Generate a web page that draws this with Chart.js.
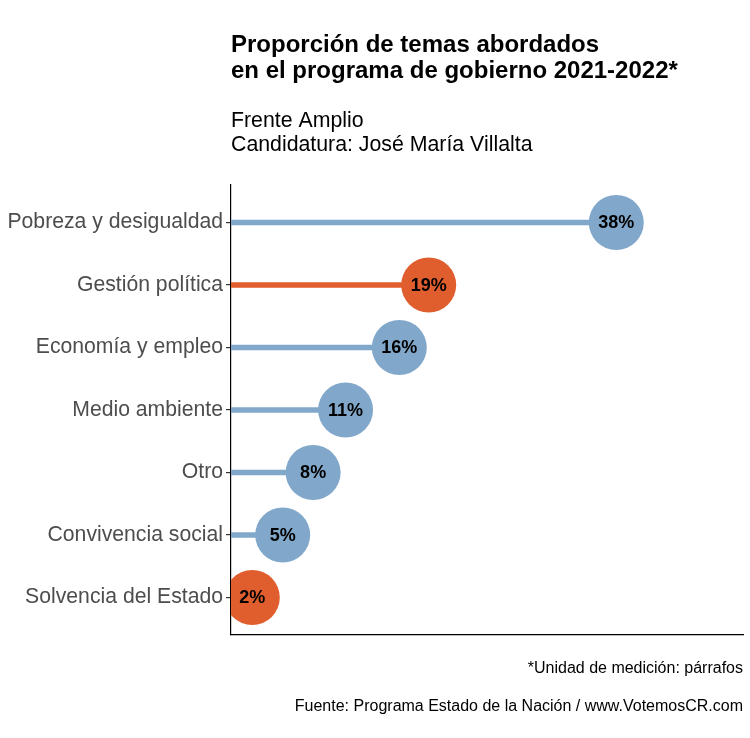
<!DOCTYPE html>
<html>
<head>
<meta charset="utf-8">
<script src="https://cdn.jsdelivr.net/npm/chart.js@4.4.0/dist/chart.umd.min.js"></script>
<style>
  html, body { margin: 0; padding: 0; background: #ffffff; }
  #wrap { width: 750px; height: 738px; position: relative; }
</style>
</head>
<body>
<div id="wrap"><canvas id="c" width="750" height="738"></canvas></div>
<script>
// ---- Data ----
const categories = ["Pobreza y desigualdad", "Gestión política", "Economía y empleo", "Medio ambiente", "Otro", "Convivencia social", "Solvencia del Estado"];
const values = [38.0, 19.5, 16.6, 11.3, 8.1, 5.1, 2.1];
const valueLabels = ["38%", "19%", "16%", "11%", "8%", "5%", "2%"];
const highlighted = [false, true, false, false, false, false, true];
const titleLines = ["Proporción de temas abordados", "en el programa de gobierno 2021-2022*"];
const subtitleLines = ["Frente Amplio", "Candidatura: José María Villalta"];
const captionLines = ["*Unidad de medición: párrafos", "Fuente: Programa Estado de la Nación / www.VotemosCR.com"];

// ---- Styles ----
const BLUE = "#81a8cb";
const ORANGE = "#e05e2e";
const FONT = "'Liberation Sans', Arial, Helvetica, sans-serif";
const colors = highlighted.map(h => h ? ORANGE : BLUE);

const points = values.map((v, i) => ({ x: v, y: i }));

const textPlugin = {
  id: 'texts',
  afterDatasetsDraw(chart) {
    const ctx = chart.ctx;
    const meta = chart.getDatasetMeta(1);
    ctx.save();
    ctx.font = "bold 18px " + FONT;
    ctx.fillStyle = "#000000";
    ctx.textAlign = "center";
    ctx.textBaseline = "middle";
    meta.data.forEach((el, i) => {
      ctx.fillText(valueLabels[i], el.x, el.y + 1);
    });
    ctx.restore();
  },
  afterDraw(chart) {
    const ctx = chart.ctx;
    const left = chart.chartArea.left;
    const right = chart.chartArea.right;
    ctx.save();
    ctx.fillStyle = "#000000";
    ctx.textBaseline = "middle";
    ctx.textAlign = "left";
    ctx.font = "bold 24px " + FONT;
    ctx.fillText(titleLines[0], left, 45);
    ctx.fillText(titleLines[1], left, 71);
    ctx.font = "21.3px " + FONT;
    ctx.fillText(subtitleLines[0], left, 121);
    ctx.fillText(subtitleLines[1], left, 145);
    ctx.textAlign = "right";
    ctx.font = "16px " + FONT;
    ctx.fillText(captionLines[0], right, 669);
    ctx.fillText(captionLines[1], right, 707);
    ctx.restore();
  }
};

new Chart(document.getElementById('c'), {
  type: 'scatter',
  data: {
    datasets: [
      {
        type: 'bar',
        indexAxis: 'y',
        data: points,
        backgroundColor: colors,
        borderWidth: 0,
        barThickness: 5,
        order: 2
      },
      {
        type: 'scatter',
        data: points,
        backgroundColor: colors,
        borderWidth: 0,
        pointRadius: 27.5,
        pointHoverRadius: 27.5,
        clip: 0,
        order: 1
      }
    ]
  },
  options: {
    responsive: false,
    animation: false,
    events: [],
    layout: { autoPadding: false, padding: { left: 0, right: 7, top: 185, bottom: 103 } },
    plugins: {
      legend: { display: false },
      tooltip: { enabled: false },
      title: { display: false }
    },
    scales: {
      x: {
        type: 'linear',
        offset: false,
        min: 0,
        max: 50.5,
        grid: { display: false, drawTicks: false, offset: false },
        ticks: { display: false },
        border: { display: true, color: '#000000', width: 1.2 },
        afterFit(scale) { scale.height = 0; }
      },
      y: {
        type: 'linear',
        offset: false,
        reverse: true,
        min: -0.6,
        max: 6.6,
        afterBuildTicks(scale) {
          scale.ticks = categories.map((c, i) => ({ value: i }));
        },
        ticks: {
          callback: (v) => categories[v],
          color: '#4d4d4d',
          font: { family: FONT, size: 21.2 },
          padding: 3,
          autoSkip: false
        },
        grid: { display: true, offset: false, drawOnChartArea: false, drawTicks: true, tickLength: 5, color: '#333333', lineWidth: 1.2 },
        border: { display: true, color: '#000000', width: 1.2 },
        afterFit(scale) { scale.width = 231; }
      }
    }
  },
  plugins: [textPlugin]
});
</script>
</body>
</html>
